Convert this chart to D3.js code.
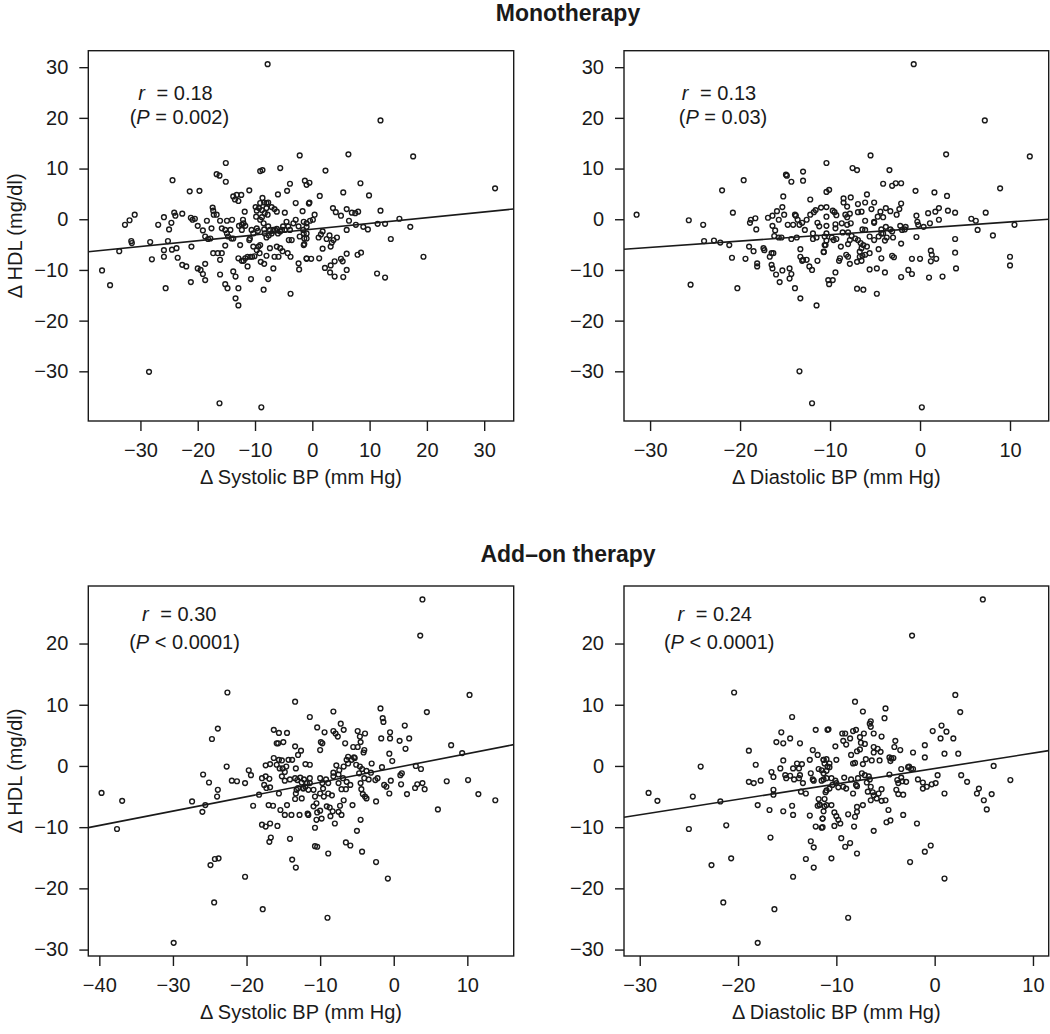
<!DOCTYPE html>
<html><head><meta charset="utf-8">
<script src="https://cdn.jsdelivr.net/npm/d3@7"></script>
<style>body{margin:0;background:#fff} svg{display:block;font-family:"Liberation Sans",Arial,Helvetica,sans-serif}</style>
</head><body><svg id="chart" width="1050" height="1034"></svg>
<script>
// ---------- data ----------
const groupTitles = ["Monotherapy", "Add\u2013on therapy"];
const xAxisTitles = ["\u0394 Systolic BP (mm Hg)", "\u0394 Diastolic BP (mm Hg)", "\u0394 Systolic BP (mm Hg)", "\u0394 Diastolic BP (mm Hg)"];
const yAxisTitle = "\u0394 HDL (mg/dl)";
const corrR = ["0.18", "0.13", "0.30", "0.24"];
const corrP = ["= 0.002)", "= 0.03)", "< 0.0001)", "< 0.0001)"];
const fitSlope = [0.1135, 0.1254, 0.2346, 0.252];
const fitIntercept = [-1.96, -1.79, -0.34, -0.42];
const xTickValues = [[-30,-20,-10,0,10,20,30], [-30,-20,-10,0,10], [-40,-30,-20,-10,0,10], [-30,-20,-10,0,10]];
const yTickValues = [[-30,-20,-10,0,10,20,30], [-30,-20,-10,0,10,20,30], [-30,-20,-10,0,10,20], [-30,-20,-10,0,10,20]];

const monoSystolic = [[-7.8,30.6],[-36.7,-10.1],[-35.3,-13.0],[-33.7,-6.3],[-32.7,-1.1],[-31.9,-0.2],[-31.0,0.9],[-31.6,-4.3],[-31.5,-4.7],[-28.5,-30.1],[-28.3,-4.5],[-28.0,-7.9],[-26.9,-1.1],[-25.9,0.4],[-25.6,-13.6],[-25.2,-4.3],[-25.0,-2.0],[-24.6,-0.7],[-24.4,7.7],[-24.1,1.3],[-23.9,0.7],[-24.5,-6.0],[-23.7,-5.7],[-25.9,-6.1],[-25.9,-7.4],[-23.5,-7.6],[-22.7,1.1],[-22.7,-9.0],[-22.0,-9.3],[-21.4,5.5],[-19.7,5.6],[-21.2,0.3],[-20.9,-0.1],[-20.5,0.1],[-21.1,-5.4],[-21.2,-12.4],[-20.0,-1.3],[-20.0,-9.7],[-19.5,-10.0],[-19.1,-10.8],[-18.7,-8.8],[-18.7,-12.0],[-19.1,-2.2],[-18.7,-3.4],[-18.4,-0.3],[-18.2,-3.9],[-17.8,-3.8],[-17.4,2.3],[-17.3,1.7],[-17.2,0.9],[-16.7,0.9],[-17.6,-1.8],[-17.3,-6.7],[-16.5,-6.7],[-16.1,-8.0],[-15.8,-6.7],[-16.1,-10.9],[-16.7,8.9],[-16.2,8.6],[-15.1,11.1],[-15.1,7.4],[-16.1,-0.3],[-14.9,-0.3],[-14.0,-0.1],[-15.8,-1.8],[-15.2,-2.1],[-14.9,-2.8],[-14.3,-2.1],[-15.2,-5.2],[-14.7,-3.4],[-14.1,-3.8],[-13.8,-3.8],[-15.2,-12.8],[-14.8,-13.6],[-13.8,-10.3],[-13.4,-11.3],[-13.4,-15.6],[-12.9,-17.0],[-12.9,-13.6],[-13.8,4.5],[-13.2,4.8],[-13.5,3.9],[-12.9,3.6],[-12.4,4.8],[-12.8,-1.3],[-12.3,-1.1],[-12.0,-0.8],[-11.8,1.5],[-11.7,-1.3],[-12.3,-2.1],[-12.1,-0.1],[-12.6,-5.1],[-12.9,-7.7],[-12.3,-8.2],[-12.0,-8.2],[-11.7,-7.7],[-11.3,-9.3],[-11.3,-7.4],[-10.8,-7.4],[-10.5,-7.4],[-10.1,-7.3],[-11.0,5.7],[-10.9,-3.8],[-11.0,-4.1],[-10.3,-2.8],[-10.6,-2.1],[-10.7,-11.8],[-9.9,2.4],[-9.7,1.7],[-9.8,0.5],[-9.7,-1.8],[-9.5,-2.3],[-9.1,-0.1],[-8.8,0.4],[-10.3,-5.4],[-9.7,-6.1],[-9.4,-5.4],[-9.1,-5.1],[-9.2,-6.7],[-9.1,9.5],[-8.7,9.7],[-8.7,4.2],[-9.1,3.2],[-8.4,3.3],[-8.0,3.2],[-7.7,3.3],[-9.3,2.2],[-8.8,1.8],[-8.0,2.2],[-8.3,1.2],[-7.8,0.9],[-8.5,-0.8],[-8.4,-2.0],[-7.7,-1.4],[-7.4,-2.1],[-8.3,-2.8],[-8.0,-3.6],[-7.6,-3.2],[-7.1,-2.8],[-6.8,-2.1],[-9.0,-8.4],[-8.4,-8.8],[-8.0,-7.2],[-7.4,-5.7],[-7.7,-11.8],[-8.5,-13.9],[-8.9,-37.1],[-16.2,-36.3],[-7.1,2.4],[-6.6,2.0],[-6.2,1.5],[-6.0,4.9],[-5.6,10.1],[-6.5,-2.1],[-6.2,-1.9],[-6.0,-2.8],[-5.6,-2.4],[-5.3,-2.1],[-5.1,-1.4],[-4.8,-2.1],[-6.6,-7.4],[-5.9,-7.4],[-6.2,-5.4],[-5.6,-5.7],[-5.2,-6.3],[-6.8,-9.7],[-4.8,1.3],[-4.5,-0.5],[-4.2,-1.4],[-3.9,-2.1],[-4.1,-4.1],[-3.6,-4.1],[-4.4,5.6],[-3.9,7.0],[-4.3,-6.7],[-3.8,-7.4],[-3.8,-14.7],[-3.3,-0.8],[-2.9,-0.1],[-2.4,-1.4],[-2.2,-3.4],[-1.6,-2.1],[-1.4,-3.8],[-1.0,-2.8],[-1.0,-0.8],[-2.9,3.2],[-1.7,1.6],[-0.6,3.1],[-2.4,-8.7],[-2.3,-9.9],[-2.2,12.6],[-1.3,7.6],[-1.0,6.8],[-1.5,-5.1],[-1.0,-7.7],[11.9,19.5],[6.3,12.8],[17.6,12.4],[31.9,6.1],[2.3,9.6],[-0.5,7.2],[8.4,7.1],[5.4,5.3],[1.3,4.6],[9.9,4.7],[-0.5,3.3],[0.4,0.9],[3.6,2.2],[4.1,1.4],[5.0,0.7],[6.0,2.0],[6.9,1.3],[7.5,1.2],[8.0,1.5],[11.9,1.7],[15.2,0.1],[6.4,-0.3],[6.0,-2.1],[7.6,-1.1],[8.9,-1.5],[9.7,-2.0],[11.4,-0.9],[12.7,-0.9],[17.1,-1.5],[-0.4,-0.3],[0.1,-0.1],[-1.5,-0.5],[-1.0,-1.5],[-1.5,-2.8],[-1.0,-3.8],[-1.4,-4.9],[1.1,-3.6],[1.5,-3.0],[1.8,-2.4],[2.5,-3.9],[3.0,-3.2],[3.4,-4.6],[3.7,-4.1],[3.2,-5.4],[4.3,-3.6],[1.8,-5.8],[1.2,-7.7],[-1.0,-7.8],[-0.2,-7.8],[2.2,-9.6],[3.2,-9.1],[3.9,-8.3],[3.1,-10.5],[3.9,-11.3],[5.0,-7.8],[5.3,-8.3],[6.0,-6.8],[6.0,-10.0],[5.4,-11.4],[7.9,-7.0],[8.5,-6.6],[13.7,-3.9],[19.4,-7.4],[11.3,-10.7],[12.7,-11.5]];

const monoDiastolic = [[-31.5,0.9],[-25.7,-0.2],[-25.5,-12.9],[-24.1,-1.1],[-24.0,-4.3],[-22.9,-4.2],[-22.2,-4.6],[-21.2,-5.1],[-22.0,5.7],[-20.9,-7.6],[-20.8,1.3],[-20.3,-13.6],[-19.6,7.7],[-19.4,-7.8],[-19.0,-5.4],[-18.5,-6.3],[-18.9,-0.7],[-18.8,-0.1],[-18.3,0.2],[-18.2,-2.0],[-18.1,-8.7],[-18.1,-9.3],[-17.4,-5.7],[-17.3,-6.1],[-16.9,0.3],[-16.4,0.7],[-15.9,1.6],[-15.7,-0.1],[-16.4,-1.3],[-16.1,-2.2],[-16.2,-3.3],[-15.7,-3.6],[-15.4,-3.6],[-16.7,-7.4],[-16.5,-6.7],[-16.3,-6.7],[-16.5,-9.0],[-16.4,-9.7],[-16.0,-10.9],[-15.6,-12.4],[-15.3,-10.1],[-14.5,-9.7],[-14.5,-11.7],[-14.3,-10.8],[-15.2,4.5],[-15.3,2.4],[-15.1,0.9],[-14.9,8.8],[-14.8,8.6],[-14.3,7.4],[-14.7,-1.1],[-14.1,-1.1],[-13.9,0.9],[-13.8,0.7],[-13.6,-0.1],[-13.4,-1.1],[-13.1,-0.7],[-12.6,-0.1],[-12.8,-2.1],[-14.3,-3.9],[-13.7,-3.6],[-13.3,-5.9],[-13.3,-7.4],[-13.1,-8.2],[-13.0,-8.0],[-12.6,-8.0],[-12.3,-9.3],[-12.0,-10.0],[-13.9,-13.6],[-13.3,-15.6],[-11.5,-17.0],[-13.0,9.4],[-13.0,7.6],[-12.2,3.9],[-13.4,-30.0],[-12.0,-36.3],[-12.2,0.9],[-11.8,1.4],[-11.6,1.8],[-11.0,2.3],[-11.4,-0.7],[-11.2,-1.4],[-11.9,-2.8],[-11.5,-3.6],[-11.9,-3.9],[-10.7,-6.4],[-11.4,-8.2],[-10.4,-4.2],[-10.5,-5.1],[-10.4,-2.8],[-10.4,-1.3],[-10.4,0.5],[-10.4,11.1],[-10.4,5.4],[-10.1,5.8],[-10.2,-12.0],[-10.1,-12.8],[-0.7,30.6],[0.2,-37.1],[7.2,19.5],[12.2,12.4],[-5.5,12.6],[2.9,12.8],[-7.5,10.1],[-7.0,9.7],[-3.4,9.7],[-4.1,7.0],[-3.1,6.6],[-2.7,7.1],[-2.1,7.1],[-0.5,5.6],[1.6,5.3],[3.0,4.6],[8.9,6.1],[-5.9,4.9],[-8.5,4.1],[-7.7,4.3],[-8.5,3.3],[-8.1,2.5],[-6.9,3.0],[-6.1,3.3],[-5.1,3.3],[-5.4,2.0],[-6.5,1.5],[-6.9,1.4],[-2.1,3.1],[-2.3,2.0],[-2.6,0.9],[-4.4,1.5],[-3.8,2.2],[-3.3,1.6],[-10.4,2.4],[-9.7,1.7],[-9.5,1.4],[-9.3,0.8],[-9.4,-1.0],[-9.4,-1.8],[-8.3,0.9],[-8.1,0.4],[-7.8,1.1],[-8.7,-0.8],[-8.1,-1.1],[-7.7,-0.8],[-6.1,-0.3],[-5.1,-0.5],[-4.7,0.5],[-4.1,0.4],[-0.4,0.7],[-0.3,-0.5],[-0.2,-1.1],[0.4,-1.5],[0.9,1.2],[1.7,1.5],[2.1,2.2],[2.1,-0.1],[3.1,1.7],[3.9,1.3],[1.1,-0.8],[5.7,0.1],[6.2,-0.3],[6.4,-2.1],[7.3,1.3],[8.1,-3.2],[10.5,-1.1],[3.9,-3.9],[3.9,-6.6],[4.0,-9.7],[1.2,-6.2],[1.3,-7.0],[1.8,-7.8],[1.2,-8.3],[2.5,-11.3],[1.0,-11.5],[10.0,-7.4],[10.0,-9.1],[-0.4,-3.5],[-2.1,-4.8],[-2.1,-11.4],[-0.9,-7.8],[0.0,-7.8],[-1.3,-10.0],[-0.9,-10.8],[-3.1,-7.2],[-2.9,-7.5],[-4.3,-7.7],[-3.9,-10.5],[-4.8,-9.7],[-5.6,-9.9],[-4.8,-14.7],[-7.0,-13.7],[-6.3,-13.9],[-5.6,-6.7],[-4.6,-5.9],[-5.1,-4.1],[-4.6,-3.4],[-4.1,-2.8],[-3.9,-4.2],[-3.7,-3.6],[-3.3,-2.0],[-3.1,-2.4],[-3.0,-3.6],[-2.2,-1.3],[-2.0,-2.1],[-1.7,-2.0],[-1.6,-1.5],[-3.8,-1.5],[-4.3,-2.0],[-4.3,-2.8],[-7.6,-3.3],[-7.2,-3.8],[-6.9,-4.1],[-6.6,-4.7],[-6.3,-5.1],[-6.5,-5.7],[-6.7,-6.4],[-6.7,-7.4],[-6.4,-7.2],[-6.1,-7.0],[-7.0,-8.4],[-6.5,-8.2],[-5.9,-5.4],[-5.6,-3.4],[-6.1,-2.1],[-6.4,-2.0],[-5.1,-0.7],[-8.0,-4.9],[-8.0,-7.4],[-7.8,-8.8],[-8.9,-7.7],[-9.0,-8.2],[-8.8,-5.4],[-9.3,-3.9],[-9.6,-4.1],[-9.8,-3.6],[-10.6,-3.4],[-10.6,-5.1],[-10.7,-6.5],[-9.7,-12.0],[-9.4,-10.5],[-8.2,-7.0],[-7.8,-4.1],[-8.0,-2.6],[-8.6,-2.6]];

const addonSystolic = [[-39.7,-4.4],[-36.9,-5.7],[-37.6,-10.3],[-29.9,-28.9],[-27.4,-5.8],[-26.0,-7.5],[-25.6,-6.4],[-25.9,-1.4],[-25.1,-2.7],[-24.0,-5.0],[-23.9,-3.9],[-24.7,4.4],[-23.9,6.1],[-22.6,12.0],[-22.7,-0.1],[-22.0,-2.4],[-21.3,-2.5],[-24.9,-16.2],[-24.3,-15.2],[-23.8,-15.1],[-24.4,-22.3],[-20.2,-18.1],[-20.2,-2.8],[-19.7,-0.7],[-19.4,-1.5],[-19.1,-6.5],[-18.3,-4.7],[-17.9,-9.6],[-17.4,-9.9],[-16.8,-9.4],[-15.8,-9.8],[-16.7,-11.7],[-16.9,-12.4],[-17.8,-23.4],[-17.9,-2.0],[-17.6,-3.1],[-17.3,-3.6],[-16.8,-3.5],[-17.4,0.1],[-16.8,0.3],[-17.4,-1.7],[-16.9,-2.1],[-17.0,-6.4],[-16.4,-6.5],[-15.6,-4.5],[-15.4,-7.2],[-14.8,-8.0],[-14.5,-6.4],[-13.9,-8.0],[-12.8,-8.0],[-13.4,-5.4],[-14.1,-11.9],[-13.8,-15.3],[-13.3,-16.6],[-16.3,5.9],[-15.9,3.7],[-15.7,3.7],[-15.0,3.9],[-16.3,1.3],[-15.6,5.4],[-14.5,5.4],[-15.9,0.2],[-15.5,-0.4],[-15.1,-0.4],[-14.8,-1.0],[-15.6,1.0],[-15.2,0.9],[-14.6,-0.1],[-14.3,1.0],[-13.8,1.0],[-13.3,-0.4],[-13.4,10.5],[-13.4,3.2],[-12.6,2.5],[-13.0,1.8],[-15.2,-1.7],[-14.8,-2.4],[-14.1,-2.2],[-13.4,-2.0],[-13.1,-2.3],[-12.7,-1.9],[-12.5,-2.7],[-12.2,-2.2],[-12.0,-3.4],[-13.0,-3.6],[-13.2,-3.9],[-12.3,-3.6],[-11.4,-2.8],[-11.6,-3.9],[-13.3,-4.5],[-11.7,-7.8],[-11.4,8.0],[-12.0,0.3],[-11.4,0.2],[3.9,27.2],[3.6,21.3],[10.3,11.6],[4.5,8.8],[-1.8,9.4],[-1.5,7.8],[-1.4,7.2],[-8.2,8.9],[-10.4,6.3],[-9.4,5.5],[-9.9,3.9],[-9.7,3.7],[-10.0,2.6],[-8.2,5.7],[-7.9,5.3],[-7.2,6.9],[-6.8,5.9],[-6.6,3.7],[-7.6,4.8],[-4.9,5.7],[-3.9,5.3],[-4.6,4.8],[-4.5,3.9],[-4.9,3.1],[-4.0,2.6],[-4.1,2.2],[-5.5,3.1],[-5.4,1.4],[-6.2,1.5],[-6.4,1.0],[-1.7,4.5],[-0.5,4.5],[-0.5,5.5],[0.8,4.1],[1.5,6.6],[2.1,4.5],[1.6,2.8],[-0.2,0.8],[-0.6,2.0],[-3.0,0.4],[-1.6,-0.2],[-2.2,-2.0],[-2.5,-2.3],[-3.1,-1.1],[-4.3,-0.5],[-3.7,-0.8],[-3.4,-2.2],[-1.3,-3.1],[-1.0,-3.4],[-0.6,-4.5],[-0.4,-2.4],[0.9,-1.5],[1.1,-1.2],[1.0,-3.0],[1.8,-4.6],[2.9,-3.6],[3.2,-3.0],[3.9,-2.8],[4.2,-3.8],[3.7,-0.5],[3.0,0.0],[-2.4,-5.8],[-4.4,-3.8],[-4.2,-4.6],[-3.9,-5.0],[-3.7,-5.3],[-4.5,-2.8],[-4.0,-2.0],[-4.7,-1.2],[-5.6,-6.4],[-4.5,-8.8],[-5.0,-10.6],[-4.3,-14.0],[-2.4,-15.7],[-0.8,-18.4],[-9.0,-24.8],[-8.9,-14.3],[-6.5,-12.5],[-5.9,-13.0],[-10.7,-13.1],[-10.4,-13.2],[6.0,-7.1],[7.2,-2.5],[7.8,3.4],[9.3,2.1],[10.1,-2.3],[11.5,-4.6],[13.8,-5.6],[-8.2,-1.7],[-7.5,-2.8],[-7.1,-3.8],[-6.5,-3.8],[-5.9,-3.1],[-6.4,-2.6],[-6.9,-2.0],[-7.5,-1.4],[-7.4,-0.7],[-6.8,-0.1],[-6.2,0.4],[-5.7,1.0],[-5.3,1.3],[-5.1,0.2],[-4.6,-0.1],[-7.8,0.1],[-8.2,-1.1],[-10.0,-2.0],[-9.7,-2.8],[-9.2,-2.2],[-8.9,-2.8],[-9.6,-3.7],[-10.0,-4.5],[-9.5,-5.0],[-8.9,-4.5],[-8.4,-4.8],[-10.9,-3.9],[-10.7,-5.0],[-11.4,-2.0],[-11.8,-2.8],[-12.3,-3.7],[-12.5,-5.3],[-10.9,-6.6],[-10.5,-6.1],[-10.4,-7.6],[-10.0,-7.3],[-9.8,-8.6],[-10.5,-8.8],[-10.7,-10.1],[-9.1,-6.6],[-8.7,-6.8],[-8.3,-7.4],[-8.6,-8.2],[-8.0,-9.4],[-7.3,-6.5],[-6.8,-5.6],[-7.5,-7.5],[-7.1,-8.0],[-11.6,-8.0]];

const addonDiastolic = [[-29.1,-4.4],[-28.2,-5.7],[-25.0,-10.3],[-24.6,-5.0],[-23.8,-0.1],[-22.7,-16.2],[-21.5,-22.3],[-21.2,-9.7],[-20.7,-15.1],[-21.8,-5.8],[-20.4,12.0],[-18.9,2.5],[-18.2,0.2],[-18.9,-2.6],[-18.4,-2.8],[-17.7,-2.4],[-18.0,-6.4],[-16.8,-7.2],[-16.7,-11.7],[-16.3,-23.4],[-18.0,-28.9],[-16.6,-1.0],[-16.4,-1.8],[-16.4,-3.9],[-16.4,-4.7],[-15.7,-0.4],[-15.6,5.5],[-16.1,3.9],[-15.4,3.7],[-15.4,0.9],[-15.2,-1.5],[-15.1,-2.0],[-14.7,-1.6],[-14.5,8.0],[-14.7,4.5],[-14.4,-0.4],[-14.3,-2.2],[-14.5,-6.5],[-14.4,-8.0],[-15.4,-7.4],[-14.4,-18.1],[-14.0,0.4],[-13.8,-0.4],[-13.7,-1.5],[-13.5,0.3],[-13.8,-2.0],[-13.6,-4.2],[-13.4,-2.8],[-13.7,3.7],[-13.1,-4.5],[-12.7,1.0],[-12.6,-1.2],[-12.3,-2.4],[-12.7,-8.1],[-12.6,-12.3],[-12.3,-13.3],[-13.1,-15.2],[-12.3,-16.6],[-11.4,-8.6],[-11.5,-10.1],[-12.1,-9.9],[-11.9,-6.5],[-11.8,-5.4],[-11.7,-6.3],[-11.3,-7.4],[-12.1,5.9],[-11.9,1.8],[-11.8,-0.5],[-11.5,-0.7],[-11.5,-2.4],[-11.3,1.0],[-11.2,0.4],[-10.9,-0.1],[-10.9,5.9],[-12.4,2.6],[-12.4,-2.2],[-11.2,-5.4],[-11.2,-6.6],[4.9,27.2],[-2.3,21.3],[2.1,11.6],[2.6,8.8],[-8.1,10.5],[-7.3,8.9],[-5.0,9.4],[-5.1,7.8],[-6.5,7.3],[-6.6,6.9],[-6.5,6.4],[-10.8,6.0],[-9.4,5.3],[-9.1,5.3],[-8.3,5.7],[-8.0,5.9],[-8.6,4.5],[-7.6,4.7],[-7.2,5.3],[-7.1,3.6],[-6.2,5.3],[-5.4,4.8],[-6.2,3.1],[-5.8,2.8],[-6.2,2.2],[-7.6,2.7],[-7.5,3.8],[-9.3,4.1],[-9.0,3.5],[-10.1,3.2],[-8.5,1.8],[-8.3,0.4],[-8.1,0.5],[-7.3,0.3],[-7.9,2.4],[-7.0,1.1],[-6.4,0.9],[-5.6,0.9],[-5.5,2.3],[-4.0,4.1],[-4.1,3.1],[-3.5,2.6],[-4.6,1.4],[-4.5,0.8],[-4.4,1.2],[-4.2,1.3],[-4.6,-1.4],[-11.3,1.0],[-11.0,1.1],[-10.7,0.4],[-10.0,1.0],[-10.7,-0.2],[-11.0,-0.8],[-11.3,-1.2],[-11.3,-2.2],[-11.0,-2.0],[-10.5,-2.0],[-10.1,-2.4],[-10.4,-3.1],[-10.7,-3.7],[-11.0,-4.0],[-11.1,-4.3],[-10.0,-2.8],[-9.8,-3.5],[-9.3,-3.4],[-9.2,-1.9],[-9.0,-3.7],[-8.5,-2.2],[-7.9,-3.3],[-8.3,-4.5],[-8.0,-3.1],[-7.8,-2.0],[-7.4,-1.2],[-7.1,-1.5],[-6.7,-1.7],[-6.6,-2.2],[-6.9,-2.7],[-6.5,-3.4],[-6.8,-4.2],[-6.3,-4.3],[-6.2,-4.8],[-6.5,-5.6],[-5.9,-5.3],[-5.7,-4.5],[-5.4,-3.8],[-5.4,-5.7],[-5.0,-5.6],[-4.7,-7.2],[-11.7,-6.4],[-11.0,-6.4],[-10.5,-6.4],[-10.2,-7.6],[-10.0,-8.2],[-9.8,-8.8],[-9.6,-9.4],[-11.4,-8.6],[-11.4,-10.0],[-10.2,-9.8],[-9.5,-11.8],[-9.1,-13.2],[-8.6,-12.6],[-7.9,-14.3],[-10.5,-15.1],[-8.2,-9.9],[-8.1,-8.3],[-7.9,-7.5],[-7.9,-6.7],[-7.3,-6.4],[-8.8,-7.9],[-6.2,-10.6],[-4.9,-9.2],[-4.5,-8.9],[-8.8,-24.8],[-3.7,-4.6],[-3.2,-4.7],[-3.9,-3.9],[-3.7,-2.8],[-3.3,-2.5],[-2.9,-2.6],[-3.8,-2.3],[-3.4,-1.9],[-3.4,-0.5],[-2.7,-0.2],[-2.4,-0.5],[-2.2,-0.5],[-2.6,-0.1],[-2.2,2.2],[-1.0,3.4],[-1.0,1.4],[-0.2,5.7],[0.6,4.5],[1.2,5.6],[0.7,6.6],[1.0,2.0],[1.9,4.5],[2.4,2.0],[-3.2,-8.0],[-1.8,-9.4],[-2.5,-15.7],[-1.0,-14.0],[-0.4,-13.0],[1.0,-18.4],[-1.7,-2.2],[-1.2,-2.7],[-1.2,-3.7],[-0.8,-3.4],[-0.3,-3.0],[0.1,-2.8],[0.3,-1.5],[1.0,-4.5],[2.7,-1.5],[3.3,-2.6],[4.3,-4.5],[4.5,-3.7],[5.0,-5.6],[5.3,-7.1],[5.8,-4.6],[6.0,0.0],[7.7,-2.3]];

const panelData = [monoSystolic, monoDiastolic, addonSystolic, addonDiastolic];

// ---------- layout ----------
const layout = [
  {left: 88.3, top: 50.7, right: 513.7, bottom: 421, xDom: [-39.1, 35.15], yDom: [-39.8, 33.25], ann: [175.5, 100, 179.4, 124], yTitle: true},
  {left: 624, top: 50.7, right: 1048.7, bottom: 421, xDom: [-32.9, 14.3], yDom: [-39.8, 33.25], ann: [719, 100, 723, 124], yTitle: false},
  {left: 88.3, top: 586, right: 513.7, bottom: 956, xDom: [-41.5, 16.3], yDom: [-31.05, 29.4], ann: [179.2, 620.7, 184.5, 649], yTitle: true},
  {left: 624, top: 586, right: 1048.7, bottom: 956, xDom: [-31.6, 11.6], yDom: [-31.05, 29.4], ann: [714.7, 620.7, 719.2, 649], yTitle: false}
];
const titlePos = [[568, 21], [568, 562]];
const ink = "#1a1a1a";
const fontSize = 20;

const svg = d3.select("#chart");

titlePos.forEach((p, i) => {
  svg.append("text").attr("x", p[0]).attr("y", p[1]).attr("text-anchor", "middle")
    .attr("font-size", 23).attr("font-weight", "bold").attr("fill", ink).text(groupTitles[i]);
});

layout.forEach((L, i) => {
  const x = d3.scaleLinear().domain(L.xDom).range([L.left, L.right]);
  const y = d3.scaleLinear().domain(L.yDom).range([L.bottom, L.top]);
  const g = svg.append("g");

  // axes
  const ax = g.append("g").attr("transform", `translate(0,${L.bottom})`)
    .call(d3.axisBottom(x).tickValues(xTickValues[i]).tickSize(10).tickPadding(12).tickFormat(d3.format("d")));
  const ay = g.append("g").attr("transform", `translate(${L.left},0)`)
    .call(d3.axisLeft(y).tickValues(yTickValues[i]).tickSize(9).tickPadding(11).tickFormat(d3.format("d")));
  [ax, ay].forEach(a => {
    a.select(".domain").remove();
    a.attr("font-size", fontSize).attr("font-family", "Liberation Sans, Arial, sans-serif");
    a.selectAll("line").attr("stroke", ink).attr("stroke-width", 1.4);
    a.selectAll("text").attr("fill", ink);
  });

  // box
  g.append("rect").attr("x", L.left).attr("y", L.top)
    .attr("width", L.right - L.left).attr("height", L.bottom - L.top)
    .attr("fill", "none").attr("stroke", ink).attr("stroke-width", 1.4);

  // regression line
  const xs = L.xDom;
  g.append("line")
    .attr("x1", x(xs[0])).attr("y1", y(fitIntercept[i] + fitSlope[i] * xs[0]))
    .attr("x2", x(xs[1])).attr("y2", y(fitIntercept[i] + fitSlope[i] * xs[1]))
    .attr("stroke", ink).attr("stroke-width", 1.6);

  // points
  g.append("g").selectAll("circle").data(panelData[i]).join("circle")
    .attr("cx", d => x(d[0])).attr("cy", d => y(d[1])).attr("r", 2.4)
    .attr("fill", "none").attr("stroke", ink).attr("stroke-width", 1.4);

  // annotation
  const t1 = g.append("text").attr("x", L.ann[0]).attr("y", L.ann[1]).attr("text-anchor", "middle")
    .attr("font-size", fontSize).attr("fill", ink);
  t1.append("tspan").attr("font-style", "italic").text("r");
  t1.append("tspan").attr("dx", 6).text(" = " + corrR[i]);
  const t2 = g.append("text").attr("x", L.ann[2]).attr("y", L.ann[3]).attr("text-anchor", "middle")
    .attr("font-size", fontSize).attr("fill", ink);
  t2.append("tspan").text("(");
  t2.append("tspan").attr("font-style", "italic").text("P");
  t2.append("tspan").text(" " + corrP[i]);

  // x axis title
  g.append("text").attr("x", (L.left + L.right) / 2).attr("y", L.bottom + 63)
    .attr("text-anchor", "middle").attr("font-size", fontSize).attr("fill", ink).text(xAxisTitles[i]);

  if (L.yTitle) {
    const cy = (L.top + L.bottom) / 2;
    g.append("text").attr("transform", `translate(22,${cy}) rotate(-90)`)
      .attr("text-anchor", "middle").attr("font-size", fontSize).attr("fill", ink).text(yAxisTitle);
  }
});
</script></body></html>
